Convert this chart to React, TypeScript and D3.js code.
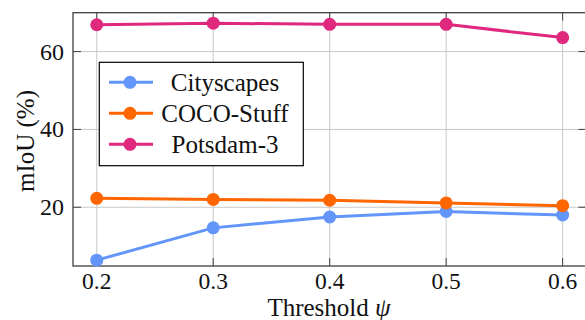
import React, { useEffect, useRef } from 'react';
import * as d3 from 'd3';

const thresholds = [0.2, 0.3, 0.4, 0.5, 0.6];
const cityscapes = [6.4, 14.7, 17.5, 18.9, 18.0];
const cocoStuff = [22.3, 22.0, 21.8, 21.1, 20.4];
const potsdam = [66.9, 67.3, 67.0, 67.0, 63.6];
const seriesNames = ['Cityscapes', 'COCO-Stuff', 'Potsdam-3'];
const yTicks = [20, 40, 60];

const App = () => {
  const svgRef = useRef<SVGSVGElement>(null);

  useEffect(() => {
    document.body.style.margin = '0';
    const colors = ['#6495fa', '#ff6600', '#e0287f'];
    const series = [cityscapes, cocoStuff, potsdam];

    const left = 73;
    const right = 586.4;
    const top = 12.7;
    const bottom = 266;

    const x = d3.scaleLinear().domain([0.1796, 0.6204]).range([left, right]);
    const y = d3.scaleLinear().domain([4.9, 70]).range([bottom, top]);

    const svg = d3.select(svgRef.current);
    svg.selectAll('*').remove();
    svg.attr('width', 585).attr('height', 320).style('display', 'block');

    // grid
    const grid = svg.append('g').attr('stroke', '#c8c8c8').attr('stroke-width', 1);
    thresholds.forEach((t) => {
      grid.append('line').attr('x1', x(t)).attr('x2', x(t)).attr('y1', top).attr('y2', bottom);
    });
    yTicks.forEach((v) => {
      grid.append('line').attr('x1', left).attr('x2', right).attr('y1', y(v)).attr('y2', y(v));
    });

    // ticks (inside, on all sides)
    const ticks = svg.append('g').attr('stroke', '#404040').attr('stroke-width', 1);
    thresholds.forEach((t) => {
      ticks.append('line').attr('x1', x(t)).attr('x2', x(t)).attr('y1', bottom).attr('y2', bottom - 8);
      ticks.append('line').attr('x1', x(t)).attr('x2', x(t)).attr('y1', top).attr('y2', top + 8);
    });
    yTicks.forEach((v) => {
      ticks.append('line').attr('x1', left).attr('x2', left + 8).attr('y1', y(v)).attr('y2', y(v));
      ticks.append('line').attr('x1', right).attr('x2', right - 8).attr('y1', y(v)).attr('y2', y(v));
    });

    // frame
    svg
      .append('rect')
      .attr('x', left)
      .attr('y', top)
      .attr('width', right - left)
      .attr('height', bottom - top)
      .attr('fill', 'none')
      .attr('stroke', '#404040')
      .attr('stroke-width', 1.3);

    const txt = (size: number) => (sel: d3.Selection<any, any, any, any>) =>
      sel.style('font-family', 'Liberation Serif').style('font-size', `${size}px`).attr('fill', '#111');

    // tick labels
    svg
      .append('g')
      .selectAll('text')
      .data(thresholds)
      .join('text')
      .attr('x', (d) => x(d))
      .attr('y', 288.5)
      .attr('text-anchor', 'middle')
      .call(txt(23.5))
      .text((d) => d3.format('.1f')(d));

    svg
      .append('g')
      .selectAll('text')
      .data(yTicks)
      .join('text')
      .attr('x', 64)
      .attr('y', (d) => y(d))
      .attr('dy', '0.33em')
      .attr('text-anchor', 'end')
      .call(txt(24))
      .text((d) => d);

    // axis titles
    const xt = svg
      .append('text')
      .attr('x', 329)
      .attr('y', 316)
      .attr('text-anchor', 'middle')
      .call(txt(25));
    xt.append('tspan').text('Threshold ');
    xt.append('tspan').style('font-style', 'italic').text('ψ');

    svg
      .append('text')
      .attr('transform', 'translate(34,141) rotate(-90)')
      .attr('text-anchor', 'middle')
      .call(txt(25))
      .text('mIoU (%)');

    // lines + markers
    const line = d3
      .line<number>()
      .x((_, i) => x(thresholds[i]))
      .y((d) => y(d));

    series.forEach((s, k) => {
      svg
        .append('path')
        .attr('d', line(s))
        .attr('fill', 'none')
        .attr('stroke', colors[k])
        .attr('stroke-width', 3);
      svg
        .append('g')
        .selectAll('circle')
        .data(s)
        .join('circle')
        .attr('cx', (_, i) => x(thresholds[i]))
        .attr('cy', (d) => y(d))
        .attr('r', 6.5)
        .attr('fill', colors[k]);
    });

    // legend
    const legend = svg.append('g');
    legend
      .append('rect')
      .attr('x', 99.3)
      .attr('y', 62.3)
      .attr('width', 204)
      .attr('height', 103.4)
      .attr('fill', 'white')
      .attr('stroke', 'black')
      .attr('stroke-width', 1.2);
    seriesNames.forEach((name, k) => {
      const ly = 82.3 + k * 31;
      legend
        .append('line')
        .attr('x1', 109)
        .attr('x2', 153)
        .attr('y1', ly)
        .attr('y2', ly)
        .attr('stroke', colors[k])
        .attr('stroke-width', 3);
      legend.append('circle').attr('cx', 130).attr('cy', ly).attr('r', 6.5).attr('fill', colors[k]);
      legend
        .append('text')
        .attr('x', 225)
        .attr('y', ly)
        .attr('dy', '0.33em')
        .attr('text-anchor', 'middle')
        .call(txt(25))
        .text(name);
    });
  }, []);

  return <svg ref={svgRef}></svg>;
};

export default App;
